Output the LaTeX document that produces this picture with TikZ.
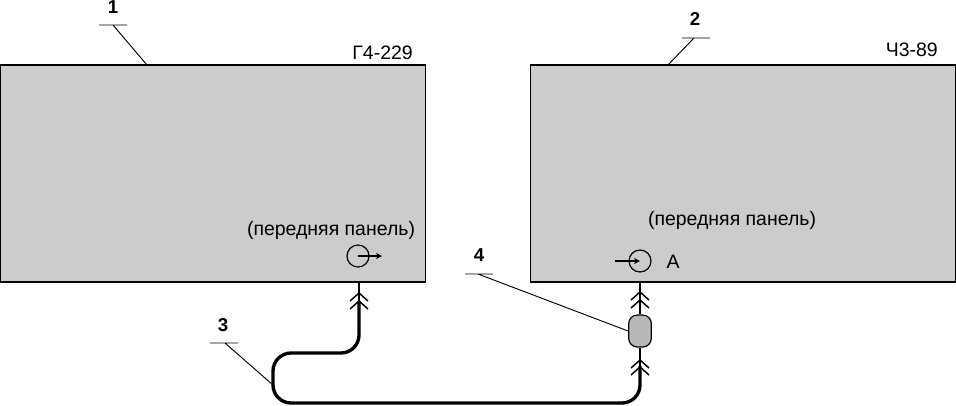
\documentclass[tikz,border=0pt]{standalone}
\usepackage{fontspec}
\setmainfont{Liberation Sans}
\usetikzlibrary{calc,arrows.meta}
\tikzset{
  x=0.75pt,y=-0.75pt,
  panel/.style={draw=black,line width=0.9pt,fill=black!20,minimum width=319pt,minimum height=162.75pt,inner sep=0pt},
  txt/.style={inner sep=0pt,font=\fontsize{14.6pt}{16pt}\selectfont},
  num/.style={inner sep=0pt,font=\bfseries\fontsize{14pt}{16pt}\selectfont},
  thinl/.style={line width=0.9pt},
  leader/.style={line width=0.7pt},
  cable/.style={line width=2.5pt,rounded corners=13.5pt},
  socket/.style={circle,draw=black,line width=0.9pt,minimum size=16.5pt,inner sep=0pt},
  chev/.style={line width=1.1pt},
  pill/.style={draw=black,line width=0.9pt,fill=black!28,rounded corners=6.5pt,minimum width=17pt,minimum height=24pt,inner sep=0pt},
}
\newcommand{\chevron}[2]{\draw[chev] (#1-9,#2+8) -- (#1,#2) -- (#1+9,#2+8);}
\begin{document}
\begin{tikzpicture}
\useasboundingbox (0,0) rectangle (956,405);
\node[panel] (g) at (212.7,173.5) {};
\node[panel] (c) at (743,173.5) {};
\node[txt,anchor=east] (gname) at (413,53) {Г4-229};
\node[txt,anchor=east] (cname) at (938,50) {Ч3-89};
\node[txt] (gp) at (331,230) {(передняя панель)};
\node[txt] (cp) at (732,220) {(передняя панель)};
\node[txt] (a) at (673,262) {А};
\node[socket] (gs) at (358,256) {};
\node[socket] (cs) at (640,261) {};
\coordinate (gse) at (382,256);
\coordinate (csw) at (615,261);
\draw[thinl,-{Stealth[length=4.5pt,width=4.5pt]}] (gs.center) -- (gse);
\draw[thinl,-{Stealth[length=4.5pt,width=4.5pt]}] (csw) -- (cs.center);
% plug and cable
\node[pill] (p) at (640,331) {};
\coordinate (g0) at (359,282);
\coordinate (g1) at (359,301);
\coordinate (c0) at (640,282);
\coordinate (c1) at (640,366);
\draw[thinl] (g0) -- (g1);
\draw[thinl] (c0) -- (p.north);
\draw[thinl] (p.south) -- (c1);
\chevron{359}{293}\chevron{359}{301}
\chevron{640}{292}\chevron{640}{300}
\chevron{640}{360}\chevron{640}{367}
\draw[cable] (g1) -- (359,353) -- (273,353) -- (273,403) -- (640,403) -- (c1);
% leaders
\node[num] (n1) at (113,7) {1};
\node[num] (n2) at (695,19) {2};
\node[num] (n3) at (223,325) {3};
\node[num] (n4) at (479,255) {4};
\coordinate (l1a) at (99,25); \coordinate (l1b) at (127,25); \coordinate (l1c) at (113,25); \coordinate (l1d) at (147,65);
\coordinate (l2a) at (682,38); \coordinate (l2b) at (710,38); \coordinate (l2c) at (694,38); \coordinate (l2d) at (668,65);
\coordinate (l3a) at (210,343); \coordinate (l3b) at (238,343); \coordinate (l3c) at (225,343); \coordinate (l3d) at (273,385);
\coordinate (l4a) at (465,274); \coordinate (l4b) at (493,274); \coordinate (l4c) at (478,274);
\draw[leader] (l1a) -- (l1b) (l1c) -- (l1d);
\draw[leader] (l2a) -- (l2b) (l2c) -- (l2d);
\draw[leader] (l3a) -- (l3b) (l3c) -- (l3d);
\draw[leader] (l4a) -- (l4b) (l4c) -- (p.west);
\end{tikzpicture}
\end{document}
